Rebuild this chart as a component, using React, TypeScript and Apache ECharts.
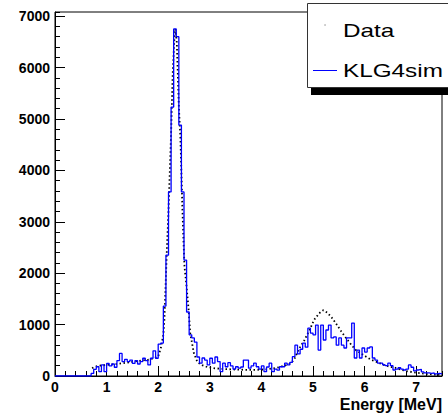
import React, { useEffect, useRef } from 'react';
import * as echarts from 'echarts';

const FONT = "'Liberation Sans', Arial, Helvetica, sans-serif";

const xMin = 0;
const xMax = 7.5;
const yMin = 0;
const yMax = 7080;
const xMajorStep = 1;
const xMinorStep = 0.2;
const yMajorStep = 1000;
const yMinorStep = 200;

const legendLabels = ['Data', 'KLG4sim'];
const xTitle = 'Energy [MeV]';

// KLG4sim histogram: bins of 0.05 MeV starting at 0
const simBinWidth = 0.05;
const simCounts = [
  0, 0, 0, 0, 0, 0, 0, 0, 0, 0,
  0, 0, 0, 0, 50, 130, 180, 85, 215, 85,
  245, 195, 233, 170, 300, 440, 280, 325, 280, 310,
  245, 300, 233, 280, 345, 300, 215, 345, 490, 345,
  620, 640, 1360, 2350, 3580, 5230, 6750, 6600, 4880, 3580,
  2255, 1245, 800, 740, 660, 370, 250, 350, 310, 215,
  345, 250, 370, 280, 85, 250, 180, 260, 195, 135,
  180, 155, 175, 310, 310, 155, 195, 250, 180, 135,
  195, 85, 175, 250, 85, 135, 115, 180, 180, 250,
  215, 265, 375, 600, 430, 520, 640, 560, 930, 835,
  800, 990, 505, 990, 700, 895, 990, 740, 760, 600,
  740, 600, 545, 740, 740, 1030, 350, 505, 350, 545,
  465, 545, 565, 350, 310, 250, 250, 215, 200, 250,
  200, 117, 135, 160, 135, 117, 135, 215, 170, 100,
  117, 130, 80, 60, 60, 50, 60, 40, 50, 40,
];

// Data (dotted), read at these energies
const dataEnergy = [
  0.72, 0.75, 0.85, 1.0, 1.2, 1.4, 1.6, 1.8, 1.9, 2.0,
  2.05, 2.10, 2.12, 2.17, 2.20, 2.25, 2.28, 2.31, 2.33, 2.36,
  2.40, 2.43, 2.45, 2.47, 2.49, 2.51, 2.55, 2.59, 2.62, 2.69,
  2.76, 2.85, 2.95, 3.1, 3.3, 3.5, 3.7, 3.9, 4.1, 4.3,
  4.45, 4.55, 4.63, 4.73, 4.83, 4.95, 5.02, 5.12, 5.20, 5.28,
  5.36, 5.44, 5.54, 5.64, 5.74, 5.83, 5.93, 6.03, 6.12, 6.22,
  6.32, 6.42, 6.52, 6.61, 6.70, 6.80, 6.90, 7.00, 7.2, 7.45,
];
const dataCounts = [
  150, 170, 200, 215, 235, 260, 290, 315, 340, 380,
  540, 800, 1090, 2510, 3230, 4720, 5850, 6500, 6750, 6500,
  5240, 4650, 3950, 3230, 2640, 2125, 1735, 1280, 835, 450,
  270, 210, 175, 150, 135, 125, 120, 120, 130, 160,
  200, 240, 310, 530, 690, 930, 1090, 1220, 1280, 1230,
  1140, 1030, 880, 740, 610, 505, 440, 375, 320, 280,
  235, 200, 175, 155, 125, 97, 80, 64, 40, 20,
];

export default function App() {
  const ref = useRef<HTMLDivElement>(null);

  useEffect(() => {
    if (!ref.current) return;
    const chart = echarts.init(ref.current, null, { renderer: 'svg' });

    const simData: number[][] = simCounts.map((c, i) => [Number((xMin + i * simBinWidth).toFixed(2)), c]);
    simData.push([xMax, simCounts[simCounts.length - 1]]);
    const dataPts = dataEnergy.map((e, i) => [e, dataCounts[i]]);

    const labelStyle = {
      color: '#000',
      fontFamily: FONT,
      fontWeight: 'bold',
      fontSize: 14,
    };

    chart.setOption({
      animation: false,
      backgroundColor: '#fff',
      grid: {
        left: 55,
        right: 6,
        top: 12,
        bottom: 40,
        show: true,
        borderColor: '#000',
        borderWidth: 1,
        backgroundColor: 'transparent',
      },
      xAxis: [
        {
          type: 'value',
          min: xMin,
          max: xMax,
          interval: xMajorStep,
          position: 'bottom',
          axisLine: { show: true, onZero: false, lineStyle: { color: '#000', width: 1 } },
          axisTick: { show: true, inside: true, length: 10, lineStyle: { color: '#000', width: 1 } },
          axisLabel: { ...labelStyle, margin: 4, showMaxLabel: false, formatter: (v: number) => String(v) },
          splitLine: { show: false },
        },
        {
          type: 'value',
          min: xMin,
          max: xMax,
          interval: xMinorStep,
          position: 'bottom',
          axisLine: { show: false },
          axisTick: { show: true, inside: true, length: 5, lineStyle: { color: '#000', width: 1 } },
          axisLabel: { show: false },
          splitLine: { show: false },
        },
      ],
      yAxis: [
        {
          type: 'value',
          min: yMin,
          max: yMax,
          interval: yMajorStep,
          position: 'left',
          axisLine: { show: true, onZero: false, lineStyle: { color: '#000', width: 1 } },
          axisTick: { show: true, inside: true, length: 10, lineStyle: { color: '#000', width: 1 } },
          axisLabel: { ...labelStyle, margin: 5, showMaxLabel: false, formatter: (v: number) => String(v) },
          splitLine: { show: false },
        },
        {
          type: 'value',
          min: yMin,
          max: yMax,
          interval: yMinorStep,
          position: 'left',
          axisLine: { show: false },
          axisTick: { show: true, inside: true, length: 5, lineStyle: { color: '#000', width: 1 } },
          axisLabel: { show: false },
          splitLine: { show: false },
        },
      ],
      series: [
        {
          name: legendLabels[0],
          type: 'line',
          xAxisIndex: 0,
          yAxisIndex: 0,
          data: dataPts,
          showSymbol: false,
          lineStyle: { color: '#000', width: 1.8, type: [1.5, 2.5] },
          z: 2,
        },
        {
          name: legendLabels[1],
          type: 'line',
          xAxisIndex: 0,
          yAxisIndex: 0,
          step: 'end',
          data: simData,
          showSymbol: false,
          lineStyle: { color: '#0000ff', width: 1.3 },
          z: 3,
        },
      ],
      graphic: [
        {
          type: 'rect',
          z: 100,
          shape: { x: 311, y: 9, width: 200, height: 86 },
          style: { fill: '#000' },
        },
        {
          type: 'rect',
          z: 101,
          shape: { x: 307.5, y: 3.5, width: 200, height: 84 },
          style: { fill: '#fff', stroke: '#333', lineWidth: 1 },
        },
        {
          type: 'circle',
          z: 102,
          shape: { cx: 325, cy: 25, r: 0.7 },
          style: { fill: '#888' },
        },
        {
          type: 'text',
          z: 102,
          x: 343,
          y: 31,
          scaleX: 1.35,
          style: {
            text: legendLabels[0],
            font: `18px ${FONT}`,
            fill: '#000',
            textVerticalAlign: 'middle',
          },
        },
        {
          type: 'line',
          z: 102,
          shape: { x1: 313, y1: 70.5, x2: 337, y2: 70.5 },
          style: { stroke: '#0000ff', lineWidth: 1 },
        },
        {
          type: 'text',
          z: 102,
          x: 343,
          y: 71,
          scaleX: 1.35,
          style: {
            text: legendLabels[1],
            font: `18px ${FONT}`,
            fill: '#000',
            textVerticalAlign: 'middle',
          },
        },
        {
          type: 'text',
          z: 102,
          x: 442,
          y: 404,
          style: {
            text: xTitle,
            font: `bold 16px ${FONT}`,
            fill: '#000',
            textAlign: 'right',
            textVerticalAlign: 'middle',
          },
        },
      ],
    });

    return () => chart.dispose();
  }, []);

  return (
    <div
      ref={ref}
      style={{ position: 'fixed', left: 0, top: 0, width: 448, height: 416, background: '#fff' }}
    />
  );
}
